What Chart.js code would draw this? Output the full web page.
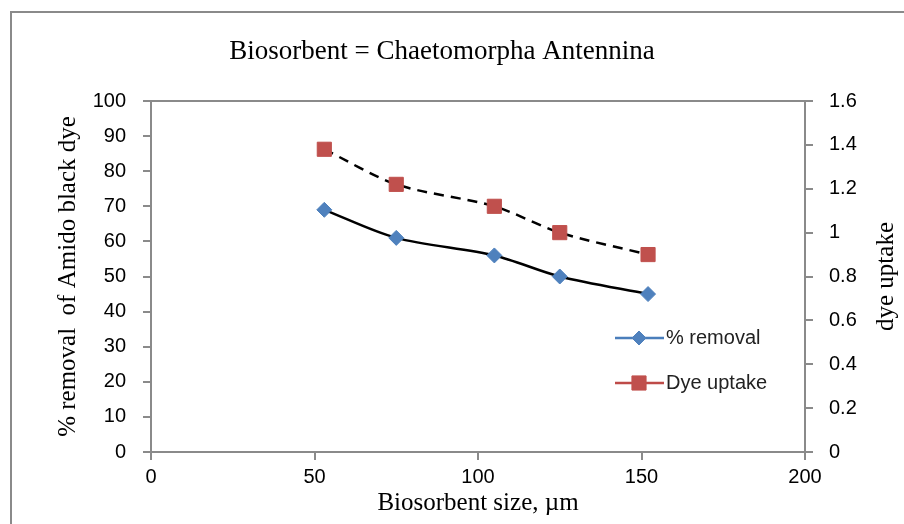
<!DOCTYPE html>
<html>
<head>
<meta charset="utf-8">
<script src="https://cdn.jsdelivr.net/npm/chart.js@4/dist/chart.umd.min.js"></script>
<style>
  html, body { margin: 0; padding: 0; background: #fff; }
  #wrap { width: 904px; height: 524px; position: relative; }
</style>
</head>
<body>
<div id="wrap"><canvas id="c" width="904" height="524"></canvas></div>
<script>
const chartTitle = "Biosorbent = Chaetomorpha Antennina";
const xTitle = "Biosorbent size, µm";
const yLeftTitle = "% removal  of Amido black dye";
const yRightTitle = "dye uptake";

const sizes = [53, 75, 105, 125, 152];
const removal = [69, 61, 56, 50, 45];
const dyeUptake = [1.38, 1.22, 1.12, 1.0, 0.9];

const xTicks = [0, 50, 100, 150, 200];
const leftTicks = [0, 10, 20, 30, 40, 50, 60, 70, 80, 90, 100];
const rightTicks = [0, 0.2, 0.4, 0.6, 0.8, 1, 1.2, 1.4, 1.6];
const rightTickLabels = ["0", "0.2", "0.4", "0.6", "0.8", "1", "1.2", "1.4", "1.6"];

const seriesNames = ["% removal", "Dye uptake"];

const AXIS = '#8a8a8a';
const tickFont = { family: 'Liberation Sans', size: 20 };
const titleFont = { family: 'Liberation Serif', size: 25 };

const decor = {
  id: 'decor',
  afterDraw(chart) {
    const ctx = chart.ctx;
    const a = chart.chartArea;
    ctx.save();
    // outer chart border
    ctx.strokeStyle = AXIS;
    ctx.lineWidth = 2;
    ctx.beginPath();
    ctx.moveTo(11, 530);
    ctx.lineTo(11, 12);
    ctx.lineTo(910, 12);
    ctx.stroke();
    // top border of plot area
    ctx.beginPath();
    ctx.moveTo(a.left, a.top);
    ctx.lineTo(a.right, a.top);
    ctx.stroke();
    // title
    ctx.fillStyle = '#000';
    ctx.font = '27px "Liberation Serif"';
    ctx.textAlign = 'center';
    ctx.textBaseline = 'middle';
    ctx.fillText(chartTitle, 442, 52);
    // right axis title (reads bottom to top)
    ctx.save();
    ctx.translate(886, (a.top + a.bottom) / 2);
    ctx.rotate(-Math.PI / 2);
    ctx.font = '25px "Liberation Serif"';
    ctx.fillText(yRightTitle, 0, 0);
    ctx.restore();
    // legend
    const rows = [
      { name: seriesNames[0], line: '#4a7ebb', fill: '#4f81bd', style: 'rectRot', y: 338, r: 7 },
      { name: seriesNames[1], line: '#be4b48', fill: '#c0504d', style: 'rect', y: 383, r: 10 }
    ];
    rows.forEach(row => {
      ctx.strokeStyle = row.line;
      ctx.lineWidth = 2.5;
      ctx.beginPath();
      ctx.moveTo(615, row.y);
      ctx.lineTo(664, row.y);
      ctx.stroke();
      ctx.fillStyle = row.fill;
      ctx.strokeStyle = row.fill;
      ctx.lineWidth = 1;
      Chart.helpers.drawPoint(ctx, { pointStyle: row.style, radius: row.r, borderWidth: 1, rotation: 0 }, 639, row.y);
      ctx.fillStyle = '#222';
      ctx.font = '20px "Liberation Sans"';
      ctx.textAlign = 'left';
      ctx.textBaseline = 'middle';
      ctx.fillText(row.name, 666, row.y);
    });
    ctx.restore();
  }
};

new Chart(document.getElementById('c'), {
  type: 'line',
  data: {
    datasets: [
      {
        label: seriesNames[0],
        data: sizes.map((x, i) => ({ x, y: removal[i] })),
        yAxisID: 'y',
        borderColor: '#000',
        borderWidth: 2.5,
        tension: 0.3,
        pointStyle: 'rectRot',
        pointRadius: 7.5,
        pointBackgroundColor: '#4f81bd',
        pointBorderColor: '#4f81bd',
        pointBorderWidth: 1
      },
      {
        label: seriesNames[1],
        data: sizes.map((x, i) => ({ x, y: dyeUptake[i] })),
        yAxisID: 'y1',
        borderColor: '#000',
        borderWidth: 2.5,
        borderDash: [10, 7],
        tension: 0.3,
        pointStyle: 'rect',
        pointRadius: 10,
        pointBackgroundColor: '#c0504d',
        pointBorderColor: '#c0504d',
        pointBorderWidth: 1
      }
    ]
  },
  options: {
    responsive: false,
    animation: false,
    layout: { padding: { left: 53, right: 5, top: 101, bottom: 0 } },
    plugins: {
      legend: { display: false },
      title: { display: false },
      tooltip: { enabled: false }
    },
    scales: {
      x: {
        type: 'linear',
        min: 0, max: 200,
        afterBuildTicks: s => { s.ticks = xTicks.map(v => ({ value: v })); },
        afterFit: s => { s.height = 72; },
        grid: { drawOnChartArea: false, drawTicks: true, tickLength: 8, color: AXIS, lineWidth: 2 },
        border: { display: true, color: AXIS, width: 2 },
        ticks: { font: tickFont, color: '#000', padding: 5, maxRotation: 0 },
        title: { display: true, text: xTitle, font: titleFont, color: '#000', padding: { top: 0, bottom: 6 } }
      },
      y: {
        type: 'linear',
        position: 'left',
        min: 0, max: 100,
        afterBuildTicks: s => { s.ticks = leftTicks.map(v => ({ value: v })); },
        afterFit: s => { s.width = 98; },
        grid: { drawOnChartArea: false, drawTicks: true, tickLength: 8, color: AXIS, lineWidth: 2 },
        border: { display: true, color: AXIS, width: 2 },
        ticks: { font: tickFont, color: '#000', padding: 17 },
        title: { display: true, text: yLeftTitle, font: titleFont, color: '#000', padding: { top: 0, bottom: 0 } }
      },
      y1: {
        type: 'linear',
        position: 'right',
        min: 0, max: 1.6,
        afterBuildTicks: s => { s.ticks = rightTicks.map(v => ({ value: v })); },
        afterFit: s => { s.width = 94; },
        grid: { drawOnChartArea: false, drawTicks: true, tickLength: 8, color: AXIS, lineWidth: 2 },
        border: { display: true, color: AXIS, width: 2 },
        ticks: { font: tickFont, color: '#000', padding: 16, callback: (v, i) => rightTickLabels[i] },
        title: { display: false }
      }
    }
  },
  plugins: [decor]
});
</script>
</body>
</html>
